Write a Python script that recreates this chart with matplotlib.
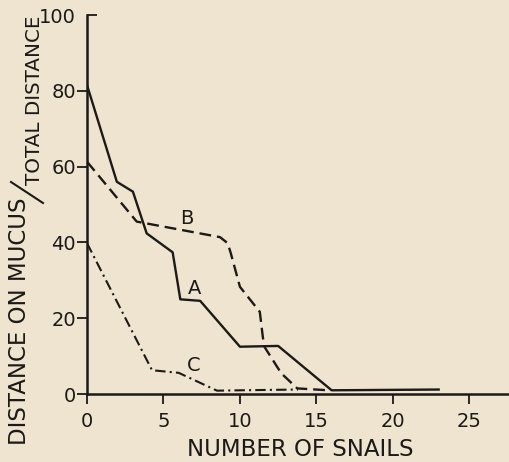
import matplotlib
matplotlib.use("Agg")
import matplotlib.pyplot as plt
from matplotlib.lines import Line2D, TICKRIGHT

# curve A (solid)
a_x = [0, 1.95, 3.0, 3.9, 5.6, 6.1, 7.4, 10.0, 12.5, 16.0, 23.0]
a_y = [81.5, 56, 53.4, 42.4, 37.4, 25.0, 24.6, 12.5, 12.7, 1.0, 1.2]
# curve B (dashed)
b_x = [0, 3.25, 8.7, 9.2, 9.4, 10.0, 11.3, 11.5, 11.6, 12.7, 13.75, 15.8]
b_y = [61.3, 45.5, 41.4, 39.8, 37.2, 28.3, 21.7, 15.0, 12.5, 5.5, 1.5, 1.0]
# curve C (dash-dot)
c_x = [0, 4.25, 6.0, 8.5, 10.0, 13.8]
c_y = [39.8, 6.3, 5.6, 0.9, 1.0, 1.2]

xticks = [0, 5, 10, 15, 20, 25]
yticks = [0, 20, 40, 60, 80, 100]

bg = "#EEE4CF"
ink = "#1c1a18"
fs = 14

fig = plt.figure(figsize=(5.09, 4.62), dpi=100, facecolor=bg)
ax = fig.add_axes([0.171, 0.147, 0.829, 0.8205], facecolor=bg)

ax.plot(a_x, a_y, color=ink, lw=1.7, ls="-")
ax.plot(b_x, b_y, color=ink, lw=1.7, ls=(0, (5, 2.5)))
ax.plot(c_x, c_y, color=ink, lw=1.5, ls=(0, (5, 2, 1, 2)))

ax.text(7.0, 27.9, "A", fontsize=14, color=ink, ha="center", va="center")
ax.text(6.55, 46.3, "B", fontsize=14, color=ink, ha="center", va="center")
ax.text(6.95, 7.6, "C", fontsize=14, color=ink, ha="center", va="center")

ax.set_xlim(0, 27.6)
ax.set_ylim(0, 100)
ax.set_xticks(xticks)
ax.set_yticks(yticks)
ax.tick_params(colors=ink, labelsize=fs, length=7, width=1.3)
ax.tick_params(axis="x", pad=6)
ax.tick_params(axis="y", pad=1)
# top tick of the y axis points inward in the original
ax.yaxis.get_major_ticks()[-1].tick1line.set_marker(TICKRIGHT)
for s in ["top", "right"]:
    ax.spines[s].set_visible(False)
for s in ["left", "bottom"]:
    ax.spines[s].set_color(ink)
    ax.spines[s].set_linewidth(1.8)

ax.set_xlabel("NUMBER OF SNAILS", fontsize=16.5, color=ink)
ax.xaxis.set_label_coords(0.505, -0.115)

# stacked y label: DISTANCE ON MUCUS / TOTAL DISTANCE
fig.text(19.5 / 509, 1 - 321 / 462, "DISTANCE ON MUCUS", rotation=90, fontsize=16.5,
         color=ink, ha="center", va="center")
fig.text(35 / 509, 1 - 100 / 462, "TOTAL DISTANCE", rotation=90, fontsize=14.3,
         color=ink, ha="center", va="center")
fig.add_artist(Line2D([11 / 509, 43 / 509], [1 - 182 / 462, 1 - 203 / 462],
                      color=ink, lw=1.5, transform=fig.transFigure))

fig.savefig("out.png", dpi=100, facecolor=bg)
